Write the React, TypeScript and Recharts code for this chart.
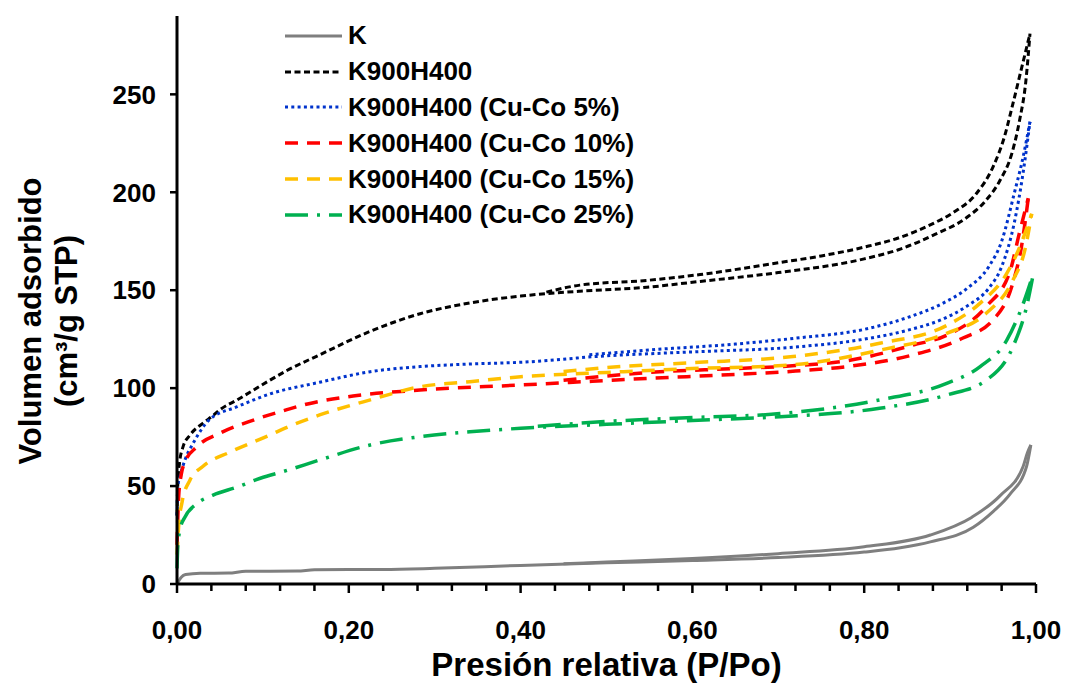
import { LineChart, Line, XAxis, YAxis } from 'recharts'

const kAds = [[0, 0], [0.005, 3.5], [0.01, 4.8], [0.027, 5.5], [0.06, 5.6], [0.08, 6.5], [0.14, 6.6], [0.16, 7.3], [0.24, 7.4], [0.3, 8], [0.4, 9.5], [0.5, 10.8], [0.6, 12], [0.7, 13.5], [0.8, 16.3], [0.842, 18.5], [0.877, 21.5], [0.927, 29], [0.95, 37], [0.97, 46], [0.989, 60], [0.994, 71]]
const kDes = [[0.45, 10.3], [0.5, 11.2], [0.6, 13], [0.7, 15.5], [0.8, 19], [0.877, 25], [0.925, 34], [0.958, 45], [0.985, 60], [0.99, 67], [0.994, 71]]

const k900Ads = [[0, 35], [0.0005, 45], [0.001, 52], [0.003, 62], [0.007, 70], [0.015, 76], [0.03, 82], [0.042, 86], [0.05, 89], [0.07, 94], [0.108, 104], [0.128, 109], [0.166, 117], [0.225, 129], [0.283, 138], [0.341, 143.5], [0.4, 147], [0.469, 149.5], [0.547, 151.5], [0.609, 154.5], [0.7, 159], [0.8, 166], [0.842, 171], [0.88, 178], [0.919, 187], [0.94, 195], [0.958, 206], [0.972, 220], [0.981, 237], [0.988, 256], [0.993, 281]]
const k900Des = [[0.43, 149], [0.469, 152.6], [0.547, 155], [0.609, 158], [0.7, 164], [0.75, 167.5], [0.8, 172], [0.842, 177], [0.88, 184], [0.905, 190], [0.93, 199], [0.95, 213], [0.963, 228], [0.973, 245], [0.983, 263], [0.993, 281]]

const cu5Ads = [[0, 35], [0.001, 50], [0.0035, 55], [0.009, 63], [0.019, 72], [0.038, 84], [0.07, 90.5], [0.108, 97], [0.166, 103], [0.225, 108.4], [0.283, 111], [0.341, 112.3], [0.4, 113.2], [0.5, 116.5], [0.6, 118.5], [0.72, 121], [0.8, 125], [0.85, 129.5], [0.89, 135], [0.92, 142], [0.945, 151], [0.96, 162], [0.975, 185], [0.985, 210], [0.993, 236]]
const cu5Des = [[0.48, 117], [0.55, 119.5], [0.65, 122.5], [0.72, 125.5], [0.8, 130], [0.85, 136], [0.89, 143], [0.92, 151], [0.945, 162], [0.96, 175], [0.975, 200], [0.985, 218], [0.993, 236]]

const cu10Ads = [[0, 20], [0.002, 45], [0.005, 56], [0.009, 62], [0.023, 70], [0.05, 77], [0.089, 83.7], [0.128, 89], [0.147, 91.4], [0.205, 96], [0.283, 99], [0.4, 101.6], [0.55, 105], [0.65, 107], [0.72, 108.7], [0.78, 111], [0.857, 117], [0.915, 125.6], [0.95, 134.8], [0.973, 153.6], [0.983, 172], [0.991, 197]]
const cu10Des = [[0.45, 104], [0.55, 108], [0.65, 110], [0.72, 111.5], [0.78, 114], [0.857, 122], [0.896, 127], [0.942, 141.6], [0.97, 160], [0.98, 178], [0.991, 197]]

const cu15Ads = [[0, 15], [0.002, 30], [0.006, 42], [0.015, 53], [0.03, 60], [0.062, 67.4], [0.108, 76], [0.128, 80], [0.166, 86.3], [0.225, 94], [0.283, 100.7], [0.341, 103.3], [0.4, 105.8], [0.5, 108], [0.6, 110], [0.714, 111.8], [0.818, 119.4], [0.896, 128], [0.942, 138.2], [0.973, 155], [0.987, 170.5], [0.995, 189]]
const cu15Des = [[0.45, 108.5], [0.5, 110.5], [0.6, 113], [0.714, 116], [0.818, 122.9], [0.896, 132], [0.935, 143.4], [0.966, 158.6], [0.981, 172], [0.995, 189]]

const cu25Ads = [[0, 8], [0.001, 20], [0.004, 28.6], [0.009, 34], [0.023, 41], [0.042, 45.4], [0.07, 49.5], [0.097, 54], [0.128, 58], [0.166, 63.3], [0.225, 71], [0.283, 75.2], [0.341, 77.7], [0.4, 79.5], [0.5, 81.5], [0.6, 83.5], [0.702, 85.4], [0.818, 89.7], [0.896, 96.5], [0.942, 104], [0.973, 121], [0.989, 141.5], [0.997, 158.6]]
const cu25Des = [[0.42, 80.5], [0.5, 83], [0.6, 85], [0.702, 87], [0.818, 94], [0.896, 102.4], [0.935, 111], [0.966, 124.5], [0.985, 143], [0.997, 158.6]]

const seriesNames = ['K', 'K900H400', 'K900H400 (Cu-Co 5%)', 'K900H400 (Cu-Co 10%)', 'K900H400 (Cu-Co 15%)', 'K900H400 (Cu-Co 25%)']
const yTicks = [0, 50, 100, 150, 200, 250]
const xLabels = [0, 0.2, 0.4, 0.6, 0.8, 1.0]

const FONT = '"Liberation Sans", Arial, sans-serif'

const styles = [
  { color: '#7F7F7F', dash: undefined, width: 3 },
  { color: '#000000', dash: '6 3.5', width: 3 },
  { color: '#0033CC', dash: '3 3.3', width: 3 },
  { color: '#FF0000', dash: '13 9', width: 3.5 },
  { color: '#FFC000', dash: '13 9', width: 3.5 },
  { color: '#00B050', dash: '23 9 3 9', width: 3.5 },
]

const branches = [[kAds, kDes], [k900Ads, k900Des], [cu5Ads, cu5Des], [cu10Ads, cu10Des], [cu15Ads, cu15Des], [cu25Ads, cu25Des]]
const toRows = (pairs: number[][]) => pairs.map(([p, v]) => ({ p, v }))

const xTicks = Array.from({ length: 26 }, (_, i) => +(i * 0.04).toFixed(2))

const XTick = (props: any) => {
  const { x, y, payload } = props
  const val = payload.value
  const major = xLabels.some(l => Math.abs(l - val) < 1e-6)
  return (
    <g>
      <line x1={x} x2={x} y1={y} y2={y + (major ? 9 : 7)} stroke="#000" strokeWidth={2.5} />
      {major && (
        <text x={x} y={y + 55} textAnchor="middle" fontSize={26} fontWeight="bold" fontFamily={FONT} fill="#000">
          {val.toFixed(2).replace('.', ',')}
        </text>
      )}
    </g>
  )
}

const YTitle = (props: any) => {
  const cy = props.viewBox.y + props.viewBox.height / 2 + 21
  return (
    <g fontFamily={FONT} fontWeight="bold" fontSize={31} fill="#000" textAnchor="middle">
      <text transform={`translate(41, ${cy}) rotate(-90)`}>Volumen adsorbido</text>
      <text transform={`translate(77, ${cy}) rotate(-90)`}>(cm³/g STP)</text>
    </g>
  )
}

const XTitle = (props: any) => {
  const vb = props.viewBox
  return (
    <text x={vb.x + vb.width / 2} y={vb.y + 92} textAnchor="middle" fontFamily={FONT} fontWeight="bold" fontSize={33} fill="#000">
      Presión relativa (P/Po)
    </text>
  )
}

const LegendBox = () => (
  <div style={{ position: 'absolute', left: 285, top: 18, fontFamily: FONT, fontWeight: 'bold', fontSize: 26, color: '#000', pointerEvents: 'none' }}>
    {seriesNames.map((name, i) => (
      <div key={name} style={{ display: 'flex', alignItems: 'center', height: 35.8, whiteSpace: 'nowrap' }}>
        <svg width={57} height={8} style={{ marginRight: 6 }}>
          <line x1={0} x2={57} y1={4} y2={4} stroke={styles[i].color} strokeWidth={styles[i].width} strokeDasharray={styles[i].dash} />
        </svg>
        <span>{name}</span>
      </div>
    ))}
  </div>
)

export default function App() {
  return (
    <div style={{ position: 'absolute', left: 0, top: 0, width: 1065, height: 683, background: '#fff' }}>
      <LineChart width={1065} height={683} margin={{ top: 16, right: 29, bottom: 39, left: 0 }}>
        <XAxis
          type="number"
          dataKey="p"
          domain={[0, 1]}
          ticks={xTicks}
          interval={0}
          height={60}
          tickSize={0}
          tickMargin={0}
          tickLine={false}
          axisLine={{ stroke: '#000', strokeWidth: 3 }}
          tick={<XTick />}
          label={<XTitle />}
        />
        <YAxis
          type="number"
          domain={[0, 290]}
          ticks={yTicks}
          interval={0}
          width={177}
          tickSize={7}
          tickMargin={14}
          axisLine={{ stroke: '#000', strokeWidth: 3 }}
          tickLine={{ stroke: '#000', strokeWidth: 2.5 }}
          tick={{ fontSize: 26, fontWeight: 'bold', fill: '#000', fontFamily: FONT }}
          label={<YTitle />}
        />
        {branches.flatMap((pair, i) =>
          pair.map((b, j) => (
            <Line
              key={`${i}-${j}`}
              data={toRows(b)}
              dataKey="v"
              type="monotone"
              stroke={styles[i].color}
              strokeWidth={styles[i].width}
              strokeDasharray={styles[i].dash}
              dot={false}
              activeDot={false}
              legendType="none"
              isAnimationActive={false}
            />
          ))
        )}
      </LineChart>
      <LegendBox />
    </div>
  )
}
